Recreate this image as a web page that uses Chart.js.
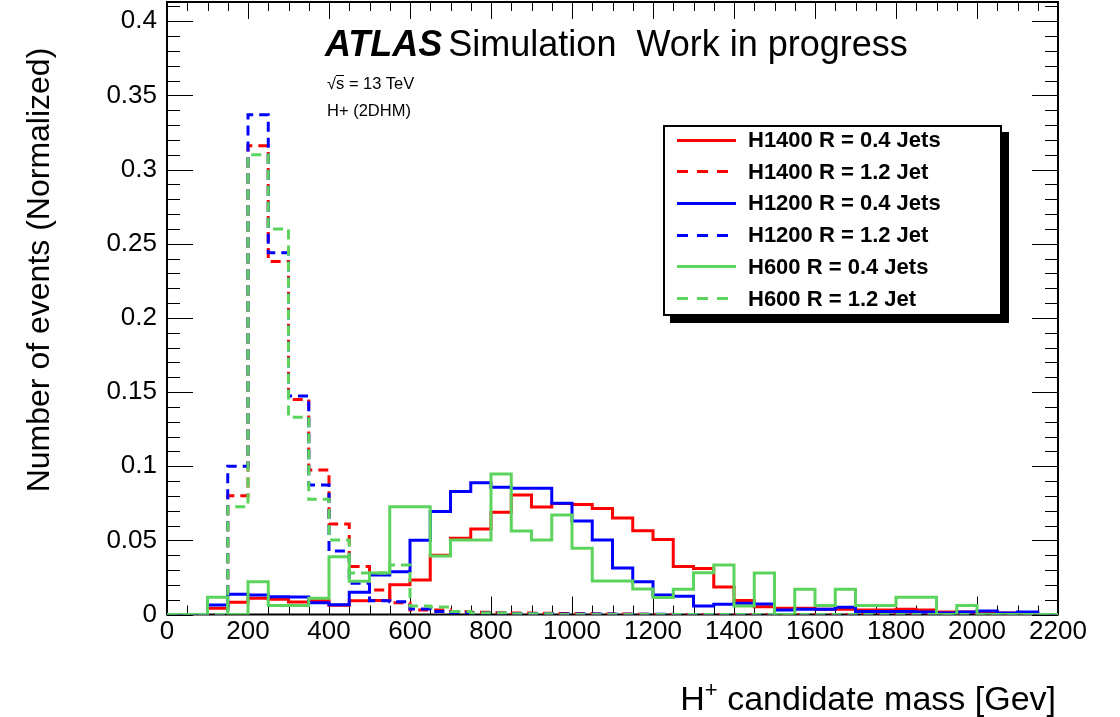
<!DOCTYPE html>
<html>
<head>
<meta charset="utf-8">
<title>H+ candidate mass</title>
<script src="https://cdn.jsdelivr.net/npm/chart.js@4"></script>
<style>
  body { margin: 0; background: #fff; font-family: 'Liberation Sans', Arial, Helvetica, sans-serif; color: #000; }
  #wrap { position: relative; width: 1120px; height: 717px; }
  #wrap canvas { position: absolute; left: 0; top: 0; }
  .txt { position: absolute; white-space: nowrap; }
  #ytitle { left: -262px; top: 250px; width: 600px; height: 40px; line-height: 40px; font-size: 32px; text-align: center; transform: rotate(-90deg); }
  #xtitle { right: 64px; top: 681px; line-height: 34px; font-size: 34px; }
  #xtitle sup { font-size: 22px; vertical-align: 13px; line-height: 0; }
  #atlas { left: 325px; top: 26px; line-height: 36px; font-size: 36px; }
  #atlas b { font-style: italic; margin-right: 6px; }
  .note { left: 327px; font-size: 16.5px; line-height: 20px; }
  .note .bar { border-top: 1px solid #000; line-height: 15px; display: inline-block; }
  #legend { position: absolute; left: 663px; top: 125px; width: 339px; height: 191px; box-sizing: border-box;
            border: 2px solid #000; background: #fff; box-shadow: 7px 7px 0 #000; }
  .row { position: absolute; left: 0; width: 100%; height: 24px; line-height: 24px; }
  .sample { position: absolute; left: 12px; top: 10.5px; width: 59px; height: 3px; background: var(--c); }
  .sample.dashed { width: 51px; background: repeating-linear-gradient(to right, var(--c) 0 11px, transparent 11px 20px); }
  .label { position: absolute; left: 83px; font-weight: bold; font-size: 22px; white-space: nowrap; }
</style>
</head>
<body>
<div id="wrap">
  <canvas id="massChart"></canvas>
  <div id="ytitle" class="txt">Number of events (Normalized)</div>
  <div id="xtitle" class="txt">H<sup>+</sup> candidate mass [Gev]</div>
  <div id="atlas" class="txt"><b>ATLAS</b>Simulation&nbsp; Work in progress</div>
  <div class="txt note" style="top: 73px;">√<span class="bar">s</span> = 13 TeV</div>
  <div class="txt note" style="top: 100px;">H+ (2DHM)</div>
  <div id="legend"></div>
</div>
<script>
// bin edges in GeV (50 GeV bins)
const binEdges = [0, 50, 100, 150, 200, 250, 300, 350, 400, 450, 500, 550, 600, 650, 700, 750,
  800, 850, 900, 950, 1000, 1050, 1100, 1150, 1200, 1250, 1300, 1350, 1400, 1450, 1500,
  1550, 1600, 1650, 1700, 1750, 1800, 1850, 1900, 1950, 2000, 2050, 2100, 2150, 2200];

// normalised bin contents, one entry per bin
const h1400Jets04 = [0, 0, 0.0042, 0.0082, 0.0110, 0.0103, 0.0085, 0.0093, 0.0062, 0.0092,
  0.0095, 0.0200, 0.0233, 0.0400, 0.0514, 0.0577, 0.0690, 0.0806, 0.0725, 0.0748,
  0.0742, 0.0715, 0.0650, 0.0564, 0.0505, 0.0323, 0.0310, 0.0185, 0.0095, 0.0053,
  0.0042, 0.0042, 0.0035, 0.0035, 0.0030, 0.0030, 0.0035, 0.0030, 0.0017, 0.0017,
  0.0017, 0.0010, 0.0010, 0];
const h1400Jet12 = [0, 0, 0, 0.0800, 0.3160, 0.2380, 0.1450, 0.0975, 0.0610, 0.0323,
  0.0165, 0.0080, 0.0030, 0.0030, 0.0020, 0.0015, 0.0012, 0.0010, 0.0008, 0.0006,
  0.0005, 0.0004, 0.0003, 0.0002, 0, 0, 0, 0, 0, 0,
  0, 0, 0, 0, 0, 0, 0, 0, 0, 0,
  0, 0, 0, 0];
const h1200Jets04 = [0, 0, 0.0064, 0.0136, 0.0132, 0.0120, 0.0118, 0.0080, 0.0066, 0.0150,
  0.0267, 0.0289, 0.0500, 0.0694, 0.0829, 0.0889, 0.0858, 0.0851, 0.0851, 0.0750,
  0.0630, 0.0503, 0.0314, 0.0221, 0.0132, 0.0123, 0.0057, 0.0069, 0.0076, 0.0071,
  0.0030, 0.0035, 0.0035, 0.0049, 0.0020, 0.0020, 0.0020, 0.0017, 0.0010, 0.0017,
  0.0024, 0.0010, 0.0017, 0];
const h1200Jet12 = [0, 0, 0, 0.1000, 0.3370, 0.2440, 0.1474, 0.0874, 0.0428, 0.0210,
  0.0093, 0.0086, 0.0037, 0.0020, 0.0012, 0.0010, 0.0008, 0.0006, 0.0005, 0.0004,
  0.0003, 0.0003, 0.0002, 0.0002, 0.0001, 0, 0, 0, 0, 0,
  0, 0, 0, 0, 0, 0, 0, 0, 0, 0,
  0, 0, 0, 0];
const h600Jets04 = [0, 0, 0.0116, 0, 0.0221, 0.0060, 0.0060, 0.0110, 0.0390, 0.0225,
  0.0280, 0.0727, 0.0727, 0.0395, 0.0503, 0.0503, 0.0948, 0.0563, 0.0503, 0.0671,
  0.0447, 0.0226, 0.0226, 0.0172, 0.0115, 0.0170, 0.0282, 0.0334, 0.0057, 0.0280,
  0, 0.0170, 0.0060, 0.0170, 0.0060, 0.0060, 0.0116, 0.0116, 0, 0.0060,
  0, 0, 0, 0];
const h600Jet12 = [0, 0, 0, 0.0727, 0.3100, 0.2600, 0.1330, 0.0777, 0.0503, 0.0280,
  0.0280, 0.0334, 0.0057, 0.0050, 0.0020, 0.0010, 0.0010, 0.0005, 0.0005, 0,
  0, 0, 0, 0, 0, 0, 0, 0, 0, 0,
  0, 0, 0, 0, 0, 0, 0, 0, 0, 0,
  0, 0, 0, 0];

const seriesLabels = ['H1400 R = 0.4 Jets', 'H1400 R = 1.2 Jet', 'H1200 R = 0.4 Jets',
  'H1200 R = 1.2 Jet', 'H600 R = 0.4 Jets', 'H600 R = 1.2 Jet'];

const xTickValues = [0, 200, 400, 600, 800, 1000, 1200, 1400, 1600, 1800, 2000, 2200];
const yTickValues = [0, 0.05, 0.1, 0.15, 0.2, 0.25, 0.3, 0.35, 0.4];
const yTickLabels = ['0', '0.05', '0.1', '0.15', '0.2', '0.25', '0.3', '0.35', '0.4'];

const fontFamily = "'Liberation Sans', Arial, Helvetica, sans-serif";
const RED = '#ff0000', BLUE = '#0000ff', GREEN = '#5cd35c';
const DASH = [10, 6];

// one point per bin edge, the closing edge repeats the last bin
function steps(values) {
	return binEdges.map((x, i) => ({ x: x, y: values[Math.min(i, values.length - 1)] }));
}

// 'before' in Chart.js keeps each point's value flat up to the next edge
const datasets = [
	{ label: seriesLabels[0], data: steps(h1400Jets04), borderColor: RED, order: 6 },
	{ label: seriesLabels[1], data: steps(h1400Jet12), borderColor: RED, borderDash: DASH, order: 5 },
	{ label: seriesLabels[2], data: steps(h1200Jets04), borderColor: BLUE, order: 4 },
	{ label: seriesLabels[3], data: steps(h1200Jet12), borderColor: BLUE, borderDash: DASH, order: 3 },
	{ label: seriesLabels[4], data: steps(h600Jets04), borderColor: GREEN, order: 2 },
	{ label: seriesLabels[5], data: steps(h600Jet12), borderColor: GREEN, borderDash: DASH, order: 1 },
].map(d => Object.assign({ borderWidth: 3, stepped: 'before', pointRadius: 0, fill: false, tension: 0 }, d));

// ROOT style frame: ticks pointing inwards on all four sides
const rootFrame = {
	id: 'rootFrame',
	beforeDatasetsDraw(chart) {
		const { ctx, chartArea: a, scales: { x, y } } = chart;
		ctx.save();
		ctx.strokeStyle = '#000';
		ctx.lineWidth = 1;
		ctx.beginPath();
		for (let v = 0; v <= 2200; v += 50) {
			const px = Math.round(x.getPixelForValue(v)) + 0.5;
			const major = v % 200 === 0;
			ctx.moveTo(px, a.bottom);
			ctx.lineTo(px, a.bottom - (major ? 18 : 9));
			ctx.moveTo(px, a.top);
			ctx.lineTo(px, a.top + (major ? 17 : 9));
		}
		for (let k = 0; k <= 41; k++) {
			const py = Math.round(y.getPixelForValue(k / 100)) + 0.5;
			const major = k % 5 === 0;
			ctx.moveTo(a.left, py);
			ctx.lineTo(a.left + (major ? 26 : 13), py);
			ctx.moveTo(a.right, py);
			ctx.lineTo(a.right - (major ? 26 : 13), py);
		}
		ctx.stroke();
		ctx.lineWidth = 2;
		ctx.strokeRect(a.left, a.top, a.right - a.left, a.bottom - a.top);
		ctx.restore();
	},
};

const chart = new Chart(document.getElementById('massChart').getContext('2d'), {
	type: 'line',
	data: { datasets: datasets },
	options: {
		animation: false,
		responsive: true,
		maintainAspectRatio: false,
		layout: { padding: { top: 2, right: 62, bottom: 0, left: 0 } },
		scales: {
			x: {
				type: 'linear',
				min: 0,
				max: 2200,
				grid: { display: false, drawTicks: false },
				border: { display: false },
				afterBuildTicks: s => { s.ticks = xTickValues.map(v => ({ value: v })); },
				afterFit: s => { s.height = 102.5; s.paddingLeft = 0; s.paddingRight = 0; },
				ticks: {
					color: '#000',
					font: { family: fontFamily, size: 26 },
					padding: 2,
					maxRotation: 0,
					autoSkip: false,
					callback: v => String(v),
				},
			},
			y: {
				type: 'linear',
				min: 0,
				max: 0.413,
				grid: { display: false, drawTicks: false },
				border: { display: false },
				afterBuildTicks: s => { s.ticks = yTickValues.map(v => ({ value: v })); },
				afterFit: s => { s.width = 167; s.paddingTop = 0; s.paddingBottom = 0; },
				ticks: {
					color: '#000',
					font: { family: fontFamily, size: 26 },
					padding: 10,
					callback: (v, i) => yTickLabels[i],
				},
			},
		},
		plugins: {
			legend: { display: false },
			tooltip: { enabled: false },
		},
	},
	plugins: [rootFrame],
});

// legend box built from the datasets
const legendBox = document.getElementById('legend');
chart.data.datasets.forEach((ds, i) => {
	const row = document.createElement('div');
	row.className = 'row';
	row.style.top = (1 + i * 31.7) + 'px';
	const sample = document.createElement('span');
	sample.className = ds.borderDash ? 'sample dashed' : 'sample';
	sample.style.setProperty('--c', ds.borderColor);
	const text = document.createElement('span');
	text.className = 'label';
	text.textContent = ds.label;
	row.append(sample, text);
	legendBox.append(row);
});
</script>
</body>
</html>
